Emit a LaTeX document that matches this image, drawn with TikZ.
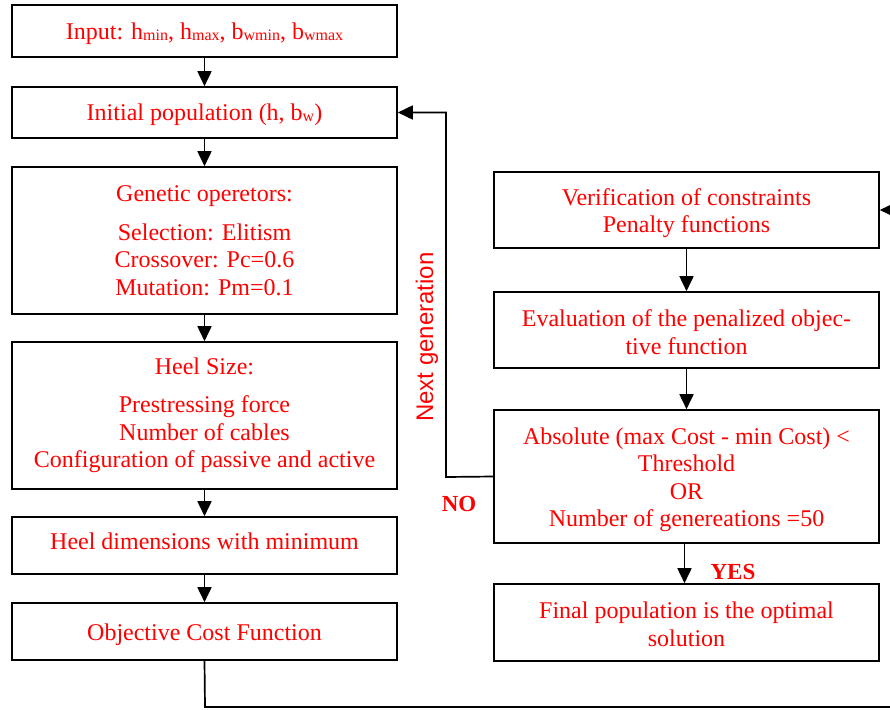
\documentclass[tikz,border=0pt]{standalone}
\usepackage{fontspec}
\setmainfont{Liberation Serif}
\newfontfamily\sansf{Liberation Sans}
\usetikzlibrary{arrows.meta,positioning,calc}
\newcommand{\sbs}[1]{\raisebox{-1.2pt}{\fontsize{16}{16}\selectfont #1}}
\begin{document}
\begin{tikzpicture}[x=1pt,y=-1pt,
  box/.style={draw=black,line width=1.6pt,inner sep=0pt,minimum width=385pt},
  lbl/.style={text=red,align=center,inner sep=0pt,font=\fontsize{24}{27.5}\selectfont},
  arr/.style={line width=1.7pt,-{Triangle[length=15pt,width=14pt]}}]
\useasboundingbox (0,0) rectangle (890,709);
\clip (0,0) rectangle (890,709);
% left column boxes
\node[box,minimum height=52pt] (inp) at (204.5,31) {};
\node[box,minimum height=51pt] (ini) at (204.5,112.5) {};
\node[box,minimum height=147pt] (gen) at (204.5,240.5) {};
\node[box,minimum height=147pt] (hs) at (204.5,415.5) {};
\node[box,minimum height=57pt] (hd) at (204.5,545.5) {};
\node[box,minimum height=57pt] (obj) at (204.5,631.5) {};
% right column boxes
\node[box,minimum height=76pt] (ver) at (686.5,210) {};
\node[box,minimum height=76pt] (eva) at (686.5,330) {};
\node[box,minimum height=133pt] (abs) at (686.5,476.5) {};
\node[box,minimum height=77pt] (fin) at (686.5,622.5) {};
% texts
\node[lbl] (inpt) at ([yshift=-2.5pt]inp.center) {Input: h\sbs{min}, h\sbs{max}, b\sbs{wmin}, b\sbs{wmax}};
\node[lbl] (init) at ([yshift=-2pt]ini.center) {Initial population (h, b\sbs{w})};
\node[lbl] (gent) at (gen.center) {Genetic operetors:\\[11pt]Selection: Elitism\\Crossover: Pc=0.6\\Mutation: Pm=0.1};
\node[lbl] (hst) at (hs.center) {Heel Size:\\[11pt]Prestressing force\\Number of cables\\Configuration of passive and active};
\node[lbl] (hdt) at ([yshift=4.5pt]hd.center) {Heel dimensions with minimum};
\node[lbl] (objt) at ([yshift=-3.5pt]obj.center) {Objective Cost Function};
\node[lbl] (vert) at ([yshift=-3pt]ver.center) {Verification of constraints\\Penalty functions};
\node[lbl] (evat) at ([yshift=-2pt]eva.center) {Evaluation of the penalized objec-\\tive function};
\node[lbl] (abst) at ([yshift=-3.5pt]abs.center) {Absolute (max Cost - min Cost) <\\Threshold\\OR\\Number of genereations =50};
\node[lbl] (fint) at ([yshift=-2pt]fin.center) {Final population is the optimal\\solution};
% labels
\node[text=red,inner sep=0pt,rotate=90,font=\sansf\fontsize{24}{26}\selectfont] (nxt) at (427,337) {Next generation};
\node[text=red,inner sep=0pt,font=\fontsize{23}{26}\selectfont\bfseries] (no) at (459,504) {NO};
\node[text=red,inner sep=0pt,font=\fontsize{23}{26}\selectfont\bfseries] (yes) at (733,572) {YES};
% connectors
\draw[arr] (inp.south) -- (ini.north);
\draw[arr] (ini.south) -- (gen.north);
\draw[arr] (gen.south) -- (hs.north);
\draw[arr] (hs.south) -- (hd.north);
\draw[arr] (hd.south) -- (obj.north);
\draw[arr] (ver.south) -- (eva.north);
\draw[arr] (eva.south) -- (abs.north);
\draw[arr] ([xshift=-2pt]abs.south) -- ([xshift=-2pt]fin.north);
\coordinate (fb) at (446,477);
\draw[arr] (abs.west) -- (fb) |- (ini.east);
\coordinate (bl) at (205,707);
\coordinate (br) at (895,707);
\draw[arr] (obj.south) -- (bl) -- (br) |- (ver.east);
\end{tikzpicture}
\end{document}
